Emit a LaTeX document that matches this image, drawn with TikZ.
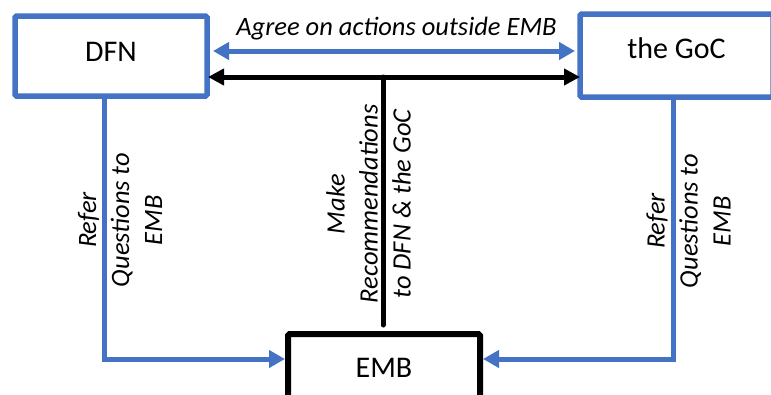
\documentclass[tikz,border=0pt]{standalone}
\usepackage{fontspec}
\setmainfont{Carlito}
\usetikzlibrary{arrows.meta}
\definecolor{obl}{HTML}{4472C4}
\begin{document}
\begin{tikzpicture}[x=1pt,y=-1pt,
  boxtxt/.style={font=\fontsize{30}{36}\selectfont, inner sep=0pt, outer sep=0pt},
  bluebox/.style={boxtxt, draw=obl, line width=5.5pt, rounded corners=1.5pt},
  blackbox/.style={boxtxt, draw=black, line width=6pt, rounded corners=1.5pt},
  lbl/.style={font=\itshape\fontsize{26.5}{33}\selectfont, align=center, inner sep=0pt},
  bluearr/.style={draw=obl, line width=5pt, -{Triangle[length=16pt,width=17pt]}},
  blackarr/.style={draw=black, line width=5pt, -{Triangle[length=16pt,width=16pt]}},
  bluedbl/.style={draw=obl, line width=5pt, {Triangle[length=16pt,width=17pt]}-{Triangle[length=16pt,width=17pt]}},
  blackdbl/.style={draw=black, line width=5pt, {Triangle[length=16pt,width=16pt]}-{Triangle[length=16pt,width=16pt]}}
]
\useasboundingbox (0,0) rectangle (771,394);
\clip (0,0) rectangle (771,394);
\fill[white] (0,0) rectangle (771,394);

\node[bluebox, minimum width=192pt, minimum height=80pt, text height=19pt, text depth=9pt] (DFN) at (111,56) {DFN};
\node[bluebox, minimum width=193pt, minimum height=83pt, text height=15pt, text depth=10pt] (GoC) at (676.5,55.5) {the GoC};
\node[blackbox, minimum width=192pt, minimum height=76pt, text height=20pt, text depth=10pt] (EMB) at (384,372) {EMB};

% top arrows
\draw[bluedbl, shorten <=6pt, shorten >=5pt] ([yshift=5pt]DFN.east) -- ([yshift=4.5pt]GoC.west)
  node[lbl, midway, anchor=base, yshift=16pt, xshift=3pt] (agree) {Agree on actions outside EMB};
\draw[blackdbl, shorten <=1pt] ([yshift=-21pt]DFN.east) -- ([yshift=-21.5pt]GoC.west);

% vertical recommendation line
\coordinate (mid) at (383,77);
\draw[black, line width=5pt, line cap=round, shorten >=9pt] (mid) -- (mid |- EMB.north);

% refer questions
\draw[bluearr, shorten >=3pt] ([xshift=-7pt]DFN.south) |- ([yshift=13pt]EMB.west);
\draw[bluearr, shorten >=3pt] ([xshift=-3.5pt]GoC.south) |- ([yshift=13pt]EMB.east);

% labels
\node[lbl, rotate=90] (lq) at (120,220) {Refer\\Questions to\\EMB};
\node[lbl, rotate=90] (mr) at (368.5,204) {Make\\Recommendations\\to DFN \& the GoC};
\node[lbl, rotate=90] (rq) at (688.5,221) {Refer\\Questions to\\EMB};
\end{tikzpicture}
\end{document}
